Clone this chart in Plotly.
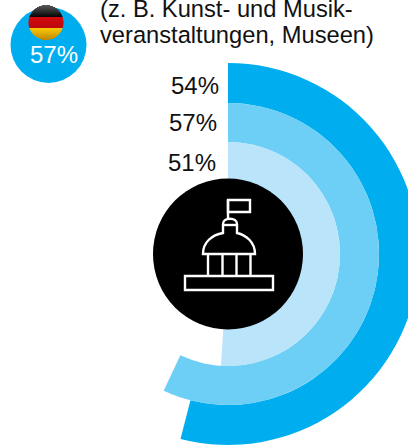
import plotly.graph_objects as go
import numpy as np

series_labels = ["54%", "57%", "51%"]
series_values = [54, 57, 51]
germany_label = "57%"
title_lines = ["(z. B. Kunst- und Musik-", "veranstaltungen, Museen)"]

ring_colors = ["#00aeef", "#6dcff6", "#b9e4fa"]
ring_inner = [151, 112, 60]
ring_outer = [191, 151, 112]

CX, CY = 228, 254
W, H = 2 * CX, 2 * CY
FONT = "Liberation Sans, Arial, sans-serif"

fig = go.Figure()
for v, c, r0, r1, name in zip(series_values, ring_colors, ring_inner, ring_outer, series_labels):
    fig.add_trace(go.Barpolar(
        r=[r1 - r0], base=[r0], theta=[v * 3.6 / 2], width=[v * 3.6],
        marker=dict(color=c, line=dict(width=0)), name=name, hoverinfo="skip", showlegend=False))

shapes = []
# blue badge
shapes.append(dict(type="circle", x0=10.5, x1=86.5, y0=7, y1=83, fillcolor="#00aeef",
                   line=dict(width=0), layer="below"))
# flag (row by row so that it keeps the glossy look)
fx, fy, fr = 46, 22.5, 17.5
stops_y = [5, 16.6, 16.7, 28.3, 28.4, 40]
stops = [(90, 90, 90), (8, 8, 8), (215, 10, 15), (185, 10, 15), (250, 200, 10), (190, 135, 0)]
for y in np.arange(5, 40, 1.0):
    ym = y + 0.5
    half = np.sqrt(max(fr ** 2 - (ym - fy) ** 2, 0))
    rgb = [int(np.interp(ym, stops_y, [s[i] for s in stops])) for i in range(3)]
    shapes.append(dict(type="rect", x0=fx - half, x1=fx + half, y0=y, y1=y + 1,
                       fillcolor="rgb(%d,%d,%d)" % tuple(rgb), line=dict(width=0), layer="above"))

# black disc and the building icon
shapes.append(dict(type="circle", x0=CX - 75, x1=CX + 75, y0=CY - 75.5, y1=CY + 75.5,
                   fillcolor="#000000", line=dict(width=0), layer="above"))
white = dict(color="#ffffff", width=2.4)
def rect(x0, y0, x1, y1):
    shapes.append(dict(type="rect", x0=x0, x1=x1, y0=y0, y1=y1, line=white, layer="above"))
def line(x0, y0, x1, y1):
    shapes.append(dict(type="line", x0=x0, x1=x1, y0=y0, y1=y1, line=white, layer="above"))
def path(d):
    shapes.append(dict(type="path", path=d, line=white, layer="above"))

rect(185, 276, 273, 290)
for x in [208, 222.5, 236.5, 250.5]:
    line(x, 255, x, 276)
path("M 203 254 L 255 254 C 255 242 246 235 237 233 L 237 224 C 237 217 223 217 223 224 "
     "L 223 233 C 212 235 203 242 203 254 Z")
line(223, 225, 237, 225)
line(228, 219, 228, 200)
rect(228, 200, 250, 212)

annotations = []
for text, x, y in zip(series_labels, [220.5, 218.5, 218], [85, 122, 162]):
    annotations.append(dict(x=x, y=y, text=text, xanchor="right", yanchor="middle",
                            showarrow=False, font=dict(size=24, color="#111111", family=FONT)))
annotations.append(dict(x=54, y=54.5, text=germany_label, xanchor="center", yanchor="middle",
                        showarrow=False, font=dict(size=24, color="#ffffff", family=FONT)))
for text, y in zip(title_lines, [9, 35]):
    annotations.append(dict(x=98, y=y, text=text, xanchor="left", yanchor="middle",
                            showarrow=False, font=dict(size=23.7, color="#111111", family=FONT)))

fig.add_trace(go.Scatter(x=[0], y=[0], mode="markers", marker=dict(opacity=0), hoverinfo="skip",
                         showlegend=False))

fig.update_layout(
    width=W, height=H, autosize=False, margin=dict(l=0, r=0, t=0, b=0),
    paper_bgcolor="#ffffff", plot_bgcolor="rgba(0,0,0,0)", showlegend=False,
    polar=dict(domain=dict(x=[0, 1], y=[0, 1]), bgcolor="rgba(0,0,0,0)", barmode="overlay",
               radialaxis=dict(visible=False, range=[0, CX]),
               angularaxis=dict(visible=False, rotation=90, direction="clockwise")),
    xaxis=dict(visible=False, range=[0, W], domain=[0, 1], fixedrange=True),
    yaxis=dict(visible=False, range=[H, 0], domain=[0, 1], fixedrange=True),
    shapes=shapes, annotations=annotations,
)
fig.write_html("out.html", config=dict(displayModeBar=False, staticPlot=True),
               post_script="document.body.style.margin='0';document.body.style.overflow='hidden';"
                           "document.documentElement.style.overflow='hidden';")
